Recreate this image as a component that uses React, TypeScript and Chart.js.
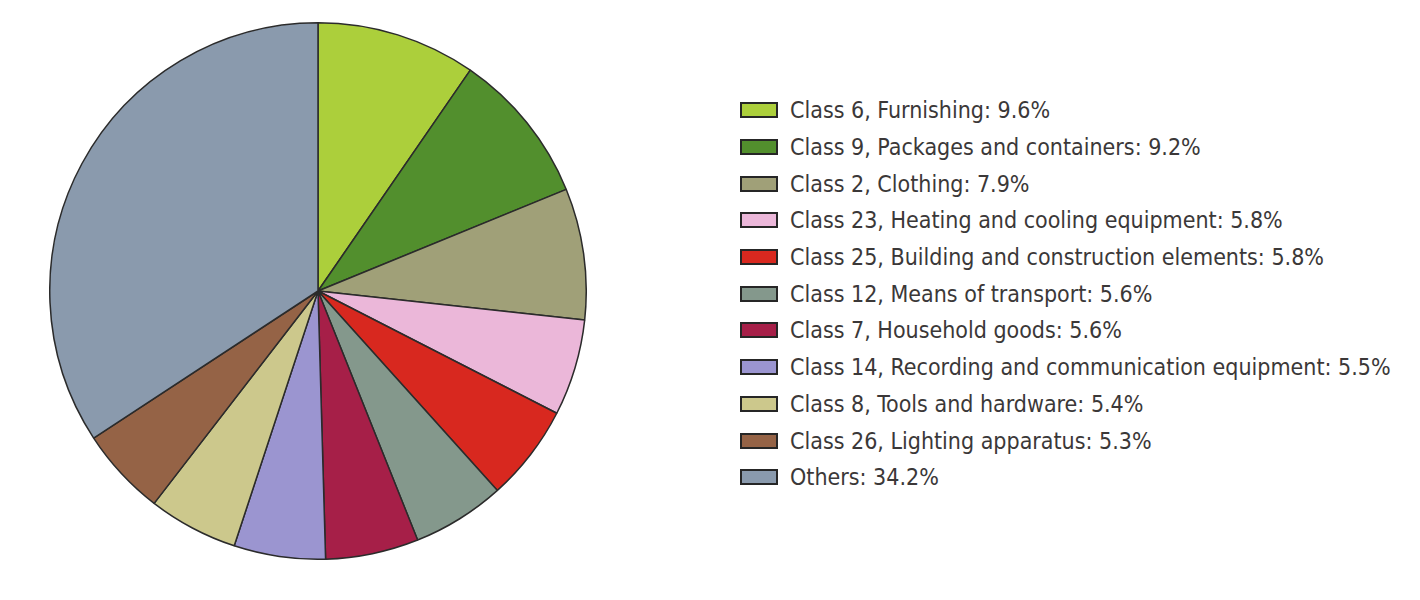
import React, { useEffect, useRef } from "react";
import { Chart, registerables } from "chart.js";

Chart.register(...registerables);

const categories: string[] = [
  "Class 6, Furnishing",
  "Class 9, Packages and containers",
  "Class 2, Clothing",
  "Class 23, Heating and cooling equipment",
  "Class 25, Building and construction elements",
  "Class 12, Means of transport",
  "Class 7, Household goods",
  "Class 14, Recording and communication equipment",
  "Class 8, Tools and hardware",
  "Class 26, Lighting apparatus",
  "Others",
];

const shares: number[] = [9.6, 9.2, 7.9, 5.8, 5.8, 5.6, 5.6, 5.5, 5.4, 5.3, 34.2];

const colors: string[] = [
  "#accf3b",
  "#528f2d",
  "#a0a078",
  "#ebb7d9",
  "#d8281f",
  "#84988c",
  "#a61f48",
  "#9b95d0",
  "#ccc88c",
  "#956346",
  "#8a9aad",
];

export default function App() {
  const canvasRef = useRef<HTMLCanvasElement | null>(null);

  useEffect(() => {
    if (!canvasRef.current) return;
    const chart = new Chart(canvasRef.current, {
      type: "pie",
      data: {
        labels: categories,
        datasets: [
          {
            data: shares,
            backgroundColor: colors,
            borderColor: "#2b2b2b",
            borderWidth: 1.5,
          },
        ],
      },
      options: {
        responsive: false,
        maintainAspectRatio: false,
        animation: false,
        layout: { padding: 0 },
        plugins: {
          legend: { display: false },
          tooltip: { enabled: false },
        },
      },
    });
    return () => chart.destroy();
  }, []);

  return (
    <div
      style={{
        position: "absolute",
        left: 0,
        top: 0,
        width: 1420,
        height: 600,
        background: "#ffffff",
        overflow: "hidden",
      }}
    >
      <canvas
        ref={canvasRef}
        width={538}
        height={538}
        style={{ position: "absolute", left: 49, top: 22, width: 538, height: 538 }}
      />
      <div
        style={{
          position: "absolute",
          left: 740,
          top: 92,
          fontFamily: "'DejaVu Sans Condensed', 'DejaVu Sans', sans-serif",
          fontStretch: "condensed",
          fontSize: 23,
          color: "#3b3838",
        }}
      >
        {categories.map((c, i) => (
          <div
            key={c}
            style={{ display: "flex", alignItems: "center", height: 36.7, whiteSpace: "nowrap" }}
          >
            <span
              style={{
                display: "inline-block",
                width: 34,
                height: 12,
                background: colors[i],
                border: "2px solid #262626",
                marginRight: 12,
              }}
            />
            <span>{`${c}: ${shares[i].toFixed(1)}%`}</span>
          </div>
        ))}
      </div>
    </div>
  );
}
